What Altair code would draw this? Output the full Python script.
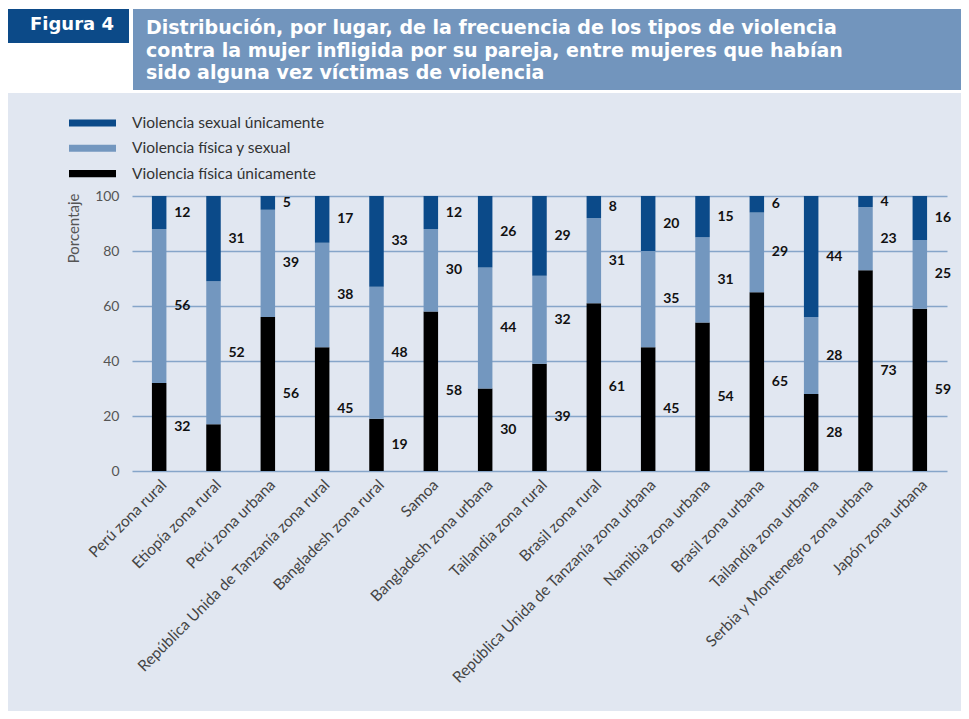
import altair as alt
import pandas as pd

# ---------------- data ----------------
sites = [
    "Perú zona rural", "Etiopía zona rural", "Perú zona urbana",
    "República Unida de Tanzanía zona rural", "Bangladesh zona rural", "Samoa",
    "Bangladesh zona urbana", "Tailandia zona rural", "Brasil zona rural",
    "República Unida de Tanzanía zona urbana", "Namibia zona urbana",
    "Brasil zona urbana", "Tailandia zona urbana",
    "Serbia y Montenegro zona urbana", "Japón zona urbana",
]
fisica_unicamente = [32, 17, 56, 45, 19, 58, 30, 39, 61, 45, 54, 65, 28, 73, 59]
fisica_y_sexual = [56, 52, 39, 38, 48, 30, 44, 32, 31, 35, 31, 29, 28, 23, 25]
sexual_unicamente = [12, 31, 5, 17, 33, 12, 26, 29, 8, 20, 15, 6, 44, 4, 16]
# labels printed beside each segment ("" = not printed in the original)
lab_fisica_unicamente = ["32", "", "56", "45", "19", "58", "30", "39", "61", "45", "54", "65", "28", "73", "59"]
lab_fisica_y_sexual = [str(v) for v in fisica_y_sexual]
lab_sexual_unicamente = [str(v) for v in sexual_unicamente]

series = ["Violencia sexual únicamente", "Violencia física y sexual", "Violencia física únicamente"]
colors = ["#0b4a89", "#7397bf", "#000000"]

fig_label = "Figura 4"
title_lines = [
    "Distribución, por lugar, de la frecuencia de los tipos de violencia",
    "contra la mujer infligida por su pareja, entre mujeres que habían",
    "sido alguna vez víctimas de violencia",
]
y_ticks = [0, 20, 40, 60, 80, 100]

# ---------------- table ----------------
rows = []
for i, s in enumerate(sites):
    base = 0
    for order, (name, vals, labs) in enumerate([
        (series[2], fisica_unicamente, lab_fisica_unicamente),
        (series[1], fisica_y_sexual, lab_fisica_y_sexual),
        (series[0], sexual_unicamente, lab_sexual_unicamente),
    ]):
        v = vals[i]
        rows.append({"site": s, "serie": name, "value": v, "ord": order,
                     "mid": base + v / 2, "label": labs[i]})
        base += v
df = pd.DataFrame(rows)
lab_df = df[df["label"] != ""]

W, H = 815, 275
PL, PT, PR, PB = 124, 188, 14, 240

FONT = "Lato"
HFONT = "DejaVu Sans"
dummy = pd.DataFrame({"a": [0]})

topwhite = alt.Chart(dummy).mark_rect(color="white").encode(
    x=alt.value(-PL), x2=alt.value(W + PR), y=alt.value(-PT), y2=alt.value(-103)
)
figbox = alt.Chart(dummy).mark_rect(color="#0c4a88").encode(
    x=alt.value(-PL), x2=alt.value(-3), y=alt.value(-187), y2=alt.value(-153)
)
titlebox = alt.Chart(dummy).mark_rect(color="#7295bd").encode(
    x=alt.value(1), x2=alt.value(W + PR), y=alt.value(-187), y2=alt.value(-106)
)
figtext = alt.Chart(dummy).mark_text(
    font=HFONT, fontWeight="bold", fontSize=18, color="white",
    align="center", baseline="middle"
).encode(x=alt.value(-60), y=alt.value(-171), text=alt.value(fig_label))
titletext = alt.Chart(dummy).mark_text(
    font=HFONT, fontWeight="bold", fontSize=19, color="white",
    align="left", baseline="alphabetic", lineBreak="\n", lineHeight=22.5
).encode(x=alt.value(14), y=alt.value(-162), text=alt.value("\n".join(title_lines)))

bars = alt.Chart(df).mark_bar(width=14.5).encode(
    x=alt.X("site:N", sort=sites, title=None,
            scale=alt.Scale(paddingInner=0, paddingOuter=0),
            axis=alt.Axis(labelAngle=315, labelAlign="right", labelBaseline="top",
                          labelFont=FONT, labelFontSize=15.5, labelColor="#444444",
                          labelPadding=6, ticks=False, domain=False, grid=False,
                          labelOverlap=False, labelLimit=400)),
    y=alt.Y("value:Q", stack="zero", title="Porcentaje",
            scale=alt.Scale(domain=[0, 100], nice=False),
            axis=alt.Axis(values=y_ticks, ticks=False, domain=False, grid=True,
                          gridColor="#86a5c9", gridWidth=1.5,
                          labelFont=FONT, labelFontSize=14, labelColor="#555555",
                          labelPadding=13,
                          titleFont=FONT, titleFontSize=15, titleFontWeight="normal",
                          titleColor="#555555", titleAngle=270, titleAlign="right",
                          titleBaseline="middle", titleX=-59, titleY=-3)),
    color=alt.Color("serie:N", scale=alt.Scale(domain=series, range=colors), title=None,
                    legend=alt.Legend(orient="none", legendX=-63, legendY=-80,
                                      symbolType="M-1,-0.15H1V0.15H-1Z", symbolSize=2209,
                                      symbolStrokeWidth=0, clipHeight=14, rowPadding=9.3,
                                      labelOffset=16, labelFont=FONT, labelFontSize=15.5,
                                      labelColor="#333333", padding=0, labelLimit=400)),
    order=alt.Order("ord:Q", sort="ascending"),
)

labels = alt.Chart(lab_df).mark_text(
    font=FONT, fontWeight="bold", fontSize=14, color="#111111",
    align="left", baseline="middle", dx=15
).encode(
    x=alt.X("site:N", sort=sites),
    y=alt.Y("mid:Q"),
    text="label:N",
)

chart = alt.layer(topwhite, figbox, titlebox, figtext, titletext, bars, labels).properties(
    width=W, height=H,
    autosize=alt.AutoSizeParams(type="none"),
    padding={"left": PL, "top": PT, "right": PR, "bottom": PB},
    background="#e1e7f1",
).configure_view(strokeWidth=0)

chart.save("out.html", embed_options={"renderer": "svg", "actions": False})
